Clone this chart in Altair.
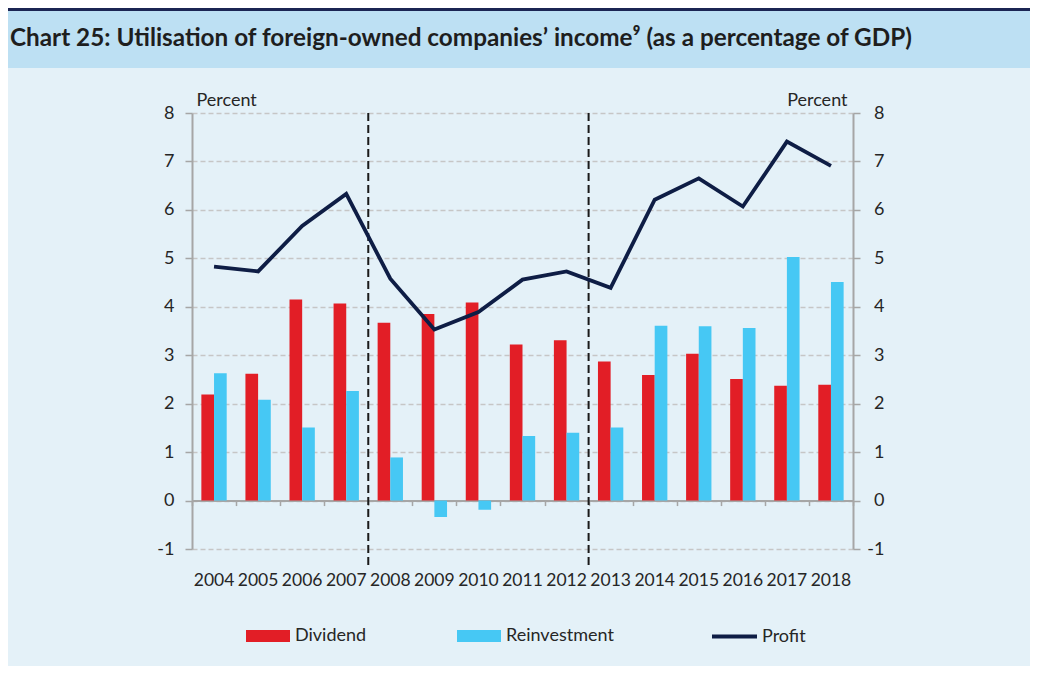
import altair as alt
import pandas as pd

# ---------------- data ----------------
years = [str(y) for y in range(2004, 2019)]
dividend = [2.19, 2.62, 4.15, 4.07, 3.67, 3.85, 4.09, 3.22, 3.31, 2.87, 2.59, 3.03, 2.51, 2.37, 2.39]
reinvestment = [2.63, 2.08, 1.51, 2.26, 0.89, -0.34, -0.19, 1.33, 1.40, 1.51, 3.61, 3.60, 3.56, 5.03, 4.51]
profit = [4.83, 4.73, 5.67, 6.33, 4.58, 3.53, 3.89, 4.56, 4.73, 4.39, 6.21, 6.65, 6.07, 7.41, 6.91]
bar_series = ["Dividend", "Reinvestment"]
bar_colors = ["#e21e26", "#46c8f4"]
line_series = ["Profit"]
line_colors = ["#0e1d45"]
break_years = ["2008", "2013"]
y_ticks = list(range(-1, 9))
title_text = "Chart 25: Utilisation of foreign-owned companies\u2019 income\u2079 (as a percentage of GDP)"
axis_title = "Percent"

bars_df = pd.DataFrame({
    "year": years * 2,
    "series": ["Dividend"] * len(years) + ["Reinvestment"] * len(years),
    "value": dividend + reinvestment,
})
line_df = pd.DataFrame({"year": years, "series": "Profit", "value": profit})
breaks_df = pd.DataFrame({"year": break_years})
one_row = pd.DataFrame({"k": [0]})

# ---------------- style ----------------
W, H = 661, 436
UNIT = H / 9.0
FONT = "Lato"
TXT = "#262626"
AX = "#a6a6a6"
BG = "#e4f1f8"
BAND = "#bde0f3"
NAVY = "#1b2553"
LBL = 18

x_scale = alt.Scale(domain=years, paddingInner=0, paddingOuter=0)
y_scale = alt.Scale(domain=[-1, 8], nice=False, zero=False)

bar_legend = alt.Legend(
    orient="none", legendX=54, legendY=501, direction="horizontal", title=None,
    symbolType="M-1,-0.27L1,-0.27L1,0.27L-1,0.27Z", symbolSize=1936, symbolStrokeWidth=0,
    symbolOpacity=1, labelFont=FONT, labelFontSize=LBL, labelColor=TXT,
    labelOffset=5, columnPadding=90, padding=0,
)
line_legend = alt.Legend(
    orient="none", legendX=518, legendY=499, direction="horizontal", title=None,
    symbolType="stroke", symbolSize=2025, symbolStrokeWidth=3.8,
    labelFont=FONT, labelFontSize=LBL, labelColor=TXT, labelOffset=3, padding=0,
)

# decorative header
nav_line = alt.Chart(one_row).mark_rect(color=NAVY).encode(
    x=alt.value(-184), x2=alt.value(838), y=alt.value(-105), y2=alt.value(-102))
band = alt.Chart(one_row).mark_rect(color=BAND).encode(
    x=alt.value(-184), x2=alt.value(838), y=alt.value(-102), y2=alt.value(-45))
title = alt.Chart(one_row).mark_text(
    align="left", baseline="alphabetic", font=FONT, fontSize=24.3, fontWeight="bold", color="#1e1e1e"
).encode(x=alt.value(-182), y=alt.value(-67), text=alt.value(title_text))

bars = alt.Chart(bars_df).mark_bar().encode(
    x=alt.X("year:N", scale=x_scale, axis=alt.Axis(
        orient="bottom", offset=-UNIT, labels=False, domain=True, domainColor=AX, domainWidth=2,
        ticks=True, tickBand="extent", tickColor=AX, tickWidth=1.5, tickSize=5, grid=False, title=None)),
    xOffset=alt.XOffset("series:N", scale=alt.Scale(domain=bar_series,
                                                    paddingOuter=0.739, paddingInner=0)),
    y=alt.Y("value:Q", scale=y_scale, axis=alt.Axis(
        orient="left", values=y_ticks, grid=True, gridDash=[5, 3], gridColor="#c6c6c6", gridWidth=1.3,
        domainColor=AX, domainWidth=2, tickColor=AX, tickWidth=1.5, tickSize=7,
        labelFont=FONT, labelFontSize=LBL, labelColor=TXT, labelPadding=11,
        labelExpr="'' + datum.value",
        title=axis_title, titleAngle=0, titleX=4, titleY=-8, titleAlign="left",
        titleBaseline="alphabetic", titleFont=FONT, titleFontSize=LBL, titleFontWeight="normal",
        titleColor=TXT)),
    color=alt.Color("series:N", scale=alt.Scale(domain=bar_series, range=bar_colors), legend=bar_legend),
)

rules = alt.Chart(breaks_df).mark_rule(strokeDash=[8, 4], strokeWidth=2, color="#1a1a1a").encode(
    x=alt.X("year:N", scale=x_scale, bandPosition=0, axis=None),
    y=alt.value(0), y2=alt.value(H + 18),
)

line = alt.Chart(line_df).mark_line(strokeWidth=3.8).encode(
    x=alt.X("year:N", scale=x_scale, axis=alt.Axis(
        orient="bottom", domain=False, ticks=False, labelPadding=22, labelAngle=0,
        labelFont=FONT, labelFontSize=17.5, labelColor=TXT, grid=False, title=None)),
    y=alt.Y("value:Q", scale=y_scale, axis=alt.Axis(
        orient="right", values=y_ticks, grid=False,
        domainColor=AX, domainWidth=2, tickColor=AX, tickWidth=1.5, tickSize=7,
        labelFont=FONT, labelFontSize=LBL, labelColor=TXT, labelPadding=24, labelAlign="right",
        labelExpr="'' + datum.value",
        title=axis_title, titleAngle=0, titleX=-6, titleY=-8, titleAlign="right",
        titleBaseline="alphabetic", titleFont=FONT, titleFontSize=LBL, titleFontWeight="normal",
        titleColor=TXT)),
    stroke=alt.Stroke("series:N", scale=alt.Scale(domain=line_series, range=line_colors), legend=line_legend),
)

chart = alt.layer(nav_line, band, title, bars, rules, line).resolve_axis(
    x="independent", y="independent"
).properties(
    width=W, height=H, background=BG,
    padding={"left": 0, "top": 0, "right": 0, "bottom": 20},
).configure_view(stroke=None)

chart.save("out.html", embed_options={"renderer": "svg", "actions": False})
